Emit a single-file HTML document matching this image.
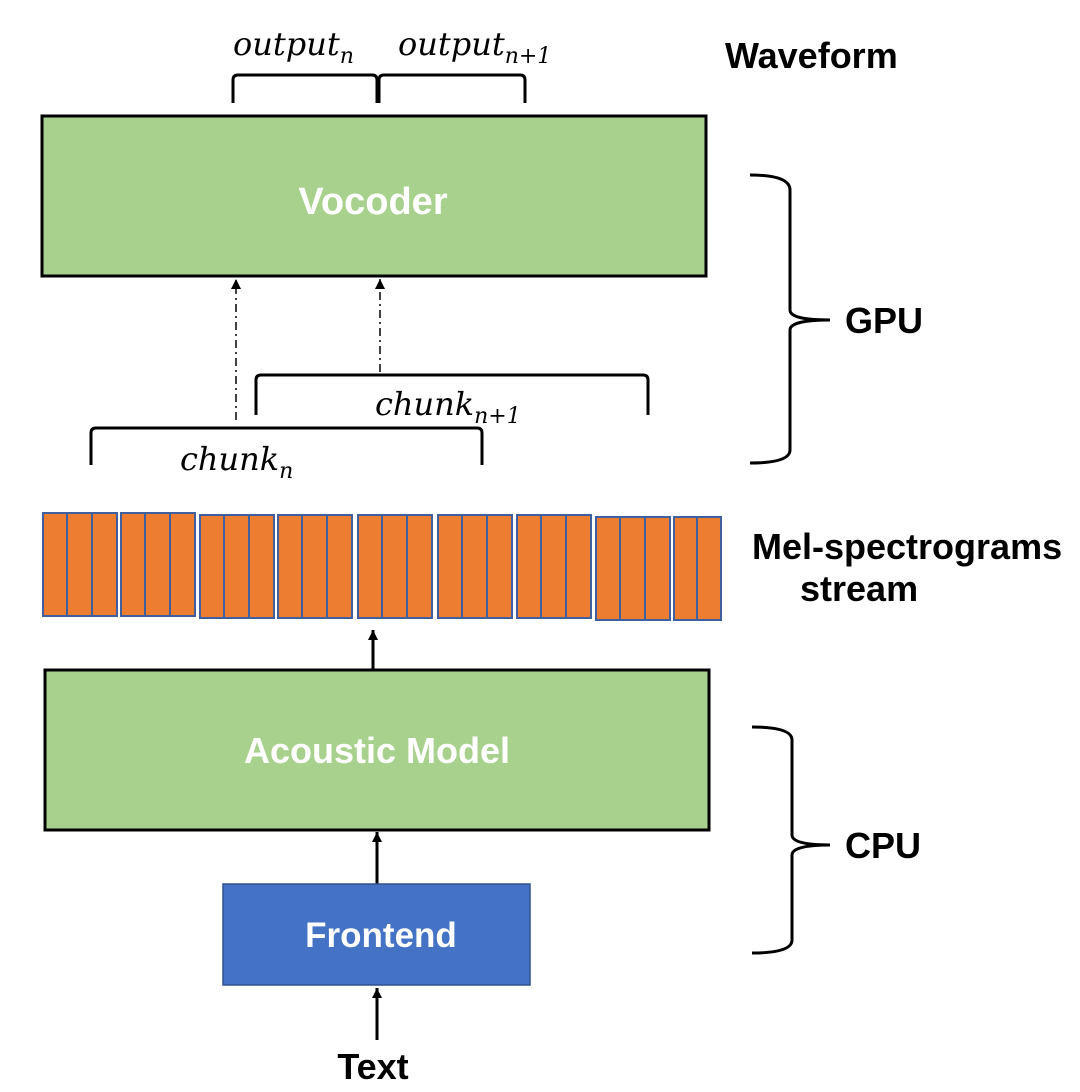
<!DOCTYPE html>
<html><head><meta charset="utf-8"><style>
html,body{margin:0;padding:0;background:#fff}
svg{display:block}
.w{font-family:"Liberation Sans",sans-serif;font-weight:bold;fill:#fff}
.b{font-family:"Liberation Sans",sans-serif;font-weight:bold;fill:#000;font-size:36px}
.m{font-family:"DejaVu Serif","Liberation Serif",serif;font-style:italic;fill:#000;font-size:32px}
.s{font-size:22px}
</style></head><body>
<svg width="1080" height="1092" viewBox="0 0 1080 1092" xmlns="http://www.w3.org/2000/svg">
<defs><marker id="a" markerWidth="12" markerHeight="12" refX="10" refY="5" orient="auto" markerUnits="userSpaceOnUse"><path d="M0,0 L10,5 L0,10 Z" fill="#000"/></marker></defs>
<text class="m" x="233" y="55">output<tspan class="s" dy="8">n</tspan></text>
<text class="m" x="398" y="55">output<tspan class="s" dy="8">n+1</tspan></text>
<path d="M233,103 V80 Q233,75 238,75 H372 Q377,75 377,80 V103 M379,103 V80 Q379,75 384,75 H520 Q525,75 525,80 V103" fill="none" stroke="#000" stroke-width="3"/>
<text class="b" x="725" y="68">Waveform</text>
<rect x="42" y="116" width="664" height="160" fill="#A9D18E" stroke="#000" stroke-width="3"/>
<text class="w" x="373" y="214" text-anchor="middle" font-size="38">Vocoder</text>
<line x1="236" y1="420" x2="236" y2="279" stroke="#000" stroke-width="1.5" stroke-dasharray="8,4,2,4" marker-end="url(#a)"/>
<line x1="380" y1="372" x2="380" y2="279" stroke="#000" stroke-width="1.5" stroke-dasharray="8,4,2,4" marker-end="url(#a)"/>
<path d="M256,415 V380 Q256,375 261,375 H643 Q648,375 648,380 V415" fill="none" stroke="#000" stroke-width="3"/>
<path d="M91,465 V433 Q91,428 96,428 H477 Q482,428 482,433 V465" fill="none" stroke="#000" stroke-width="3"/>
<text class="m" x="375" y="415">chunk<tspan class="s" dy="8">n+1</tspan></text>
<text class="m" x="180" y="470">chunk<tspan class="s" dy="8">n</tspan></text>
<path d="M750,175 Q790,175 790,190 V310 Q790,320 830,320 Q790,320 790,330 V450 Q790,463 750,463" fill="none" stroke="#000" stroke-width="3"/>
<text class="b" x="845" y="333" font-size="35">GPU</text>
<g fill="#ED7D31" stroke="#3F5F9F" stroke-width="2">
<rect x="43" y="513" width="24" height="103"/><rect x="67" y="513" width="25" height="103"/><rect x="92" y="513" width="25" height="103"/>
<rect x="121" y="513" width="24" height="103"/><rect x="145" y="513" width="25" height="103"/><rect x="170" y="513" width="25" height="103"/>
<rect x="200" y="515" width="24" height="103"/><rect x="224" y="515" width="25" height="103"/><rect x="249" y="515" width="25" height="103"/>
<rect x="278" y="515" width="24" height="103"/><rect x="302" y="515" width="25" height="103"/><rect x="327" y="515" width="25" height="103"/>
<rect x="358" y="515" width="24" height="103"/><rect x="382" y="515" width="25" height="103"/><rect x="407" y="515" width="25" height="103"/>
<rect x="438" y="515" width="24" height="103"/><rect x="462" y="515" width="25" height="103"/><rect x="487" y="515" width="25" height="103"/>
<rect x="517" y="515" width="24" height="103"/><rect x="541" y="515" width="25" height="103"/><rect x="566" y="515" width="25" height="103"/>
<rect x="596" y="517" width="24" height="103"/><rect x="620" y="517" width="25" height="103"/><rect x="645" y="517" width="25" height="103"/>
<rect x="674" y="517" width="23" height="103"/><rect x="697" y="517" width="24" height="103"/>
</g>
<text class="b" x="752" y="559">Mel-spectrograms</text>
<text class="b" x="800" y="601">stream</text>
<line x1="373" y1="670" x2="373" y2="630" stroke="#000" stroke-width="3" marker-end="url(#a)"/>
<rect x="45" y="670" width="664" height="160" fill="#A9D18E" stroke="#000" stroke-width="3"/>
<text class="w" x="377" y="763" text-anchor="middle" font-size="36">Acoustic Model</text>
<line x1="377" y1="884" x2="377" y2="832" stroke="#000" stroke-width="3" marker-end="url(#a)"/>
<rect x="223" y="884" width="307" height="101" fill="#4472C4" stroke="#2F528F" stroke-width="1.5"/>
<text class="w" x="381" y="947" text-anchor="middle" font-size="35">Frontend</text>
<line x1="377" y1="1040" x2="377" y2="988" stroke="#000" stroke-width="3" marker-end="url(#a)"/>
<text class="b" x="373" y="1079" text-anchor="middle" font-size="37">Text</text>
<path d="M752,727 Q792,727 792,740 V835 Q792,845 830,845 Q792,845 792,855 V940 Q792,953 752,953" fill="none" stroke="#000" stroke-width="3"/>
<text class="b" x="845" y="858" font-size="35">CPU</text>
</svg>
</body></html>
